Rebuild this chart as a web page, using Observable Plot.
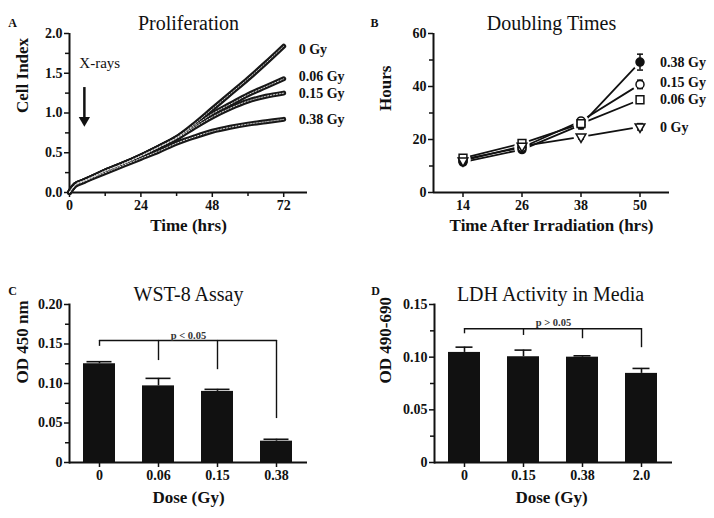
<!DOCTYPE html>
<html><head><meta charset="utf-8">
<script src="https://cdn.jsdelivr.net/npm/d3@7"></script>
<script src="https://cdn.jsdelivr.net/npm/@observablehq/plot@0.6"></script>
<style>
body{margin:0;background:#fff;}
#wrap{position:relative;width:714px;height:518px;background:#fff;}
#wrap > div{position:absolute;width:357px;height:259px;}
</style></head><body>
<div id="wrap">
<div id="pa" style="left:0;top:0"></div>
<div id="pb" style="left:357px;top:0"></div>
<div id="pc" style="left:0;top:259px"></div>
<div id="pd" style="left:357px;top:259px"></div>
</div>
<script>
// ---------- Panel A: Proliferation (Cell Index vs time) ----------
const timeHrs = [0, 2, 5, 8, 12, 18, 24, 30, 36, 42, 48, 54, 60, 66, 72];
const doseLabels = ["0 Gy", "0.06 Gy", "0.15 Gy", "0.38 Gy"];
const ci0Gy   = [0, 0.10, 0.15, 0.20, 0.27, 0.36, 0.46, 0.57, 0.69, 0.86, 1.05, 1.24, 1.43, 1.63, 1.84];
const ci006Gy = [0, 0.10, 0.15, 0.20, 0.27, 0.36, 0.46, 0.57, 0.69, 0.84, 0.99, 1.11, 1.23, 1.33, 1.43];
const ci015Gy = [0, 0.10, 0.15, 0.20, 0.27, 0.36, 0.46, 0.57, 0.68, 0.82, 0.95, 1.06, 1.15, 1.21, 1.25];
const ci038Gy = [0, 0.09, 0.14, 0.19, 0.25, 0.34, 0.43, 0.52, 0.62, 0.70, 0.77, 0.82, 0.86, 0.89, 0.92];
const labelYA = [1.80, 1.46, 1.24, 0.92];
const xrayTime = 5, xrayArrowTop = 1.32, xrayArrowBottom = 0.84, xrayTextY = 1.63, xrayTextX = 3.3;

// ---------- Panel B: Doubling times ----------
const dtTimes = [14, 26, 38, 50];
const dtDoses = ["0.38 Gy", "0.15 Gy", "0.06 Gy", "0 Gy"];
const dt038 = [11.5, 16.2, 25.5, 49.2];
const dt015 = [12.5, 17.0, 27.0, 40.8];
const dt006 = [13.0, 18.5, 26.0, 35.0];
const dt0   = [12.0, 17.5, 21.0, 24.8];
const err038 = [0.8, 0.8, 1.5, 3.0];
const err015 = [0.8, 0.8, 1.2, 1.6];
const err006 = [0.5, 0.6, 1.0, 0.6];
const err0   = [0.5, 0.6, 0.8, 1.2];
const labelYB = [49.1, 41.5, 35.1, 24.5];

// ---------- Panel C: WST-8 ----------
const wstDose = ["0", "0.06", "0.15", "0.38"];
const wstMean = [0.125, 0.097, 0.090, 0.027];
const wstUpper = [0.1276, 0.1065, 0.0926, 0.0294];
const wstBracketTop = 0.1545;
const wstBracketEnds = [0.147, 0.129, 0.1175, 0.0556];
const wstP = "p < 0.05", wstPY = 0.1655;

// ---------- Panel D: LDH ----------
const ldhDose = ["0", "0.15", "0.38", "2.0"];
const ldhMean = [0.1045, 0.1004, 0.1000, 0.0846];
const ldhUpper = [0.1095, 0.1067, 0.1013, 0.0893];
const ldhBracketTop = 0.127;
const ldhBracketEnds = [0.1222, 0.1206, 0.1175, 0.109];
const ldhP = "p > 0.05", ldhPY = 0.137;

// ---------- shared style ----------
const fontFamily = "'Liberation Serif', 'DejaVu Serif', 'Times New Roman', serif";
const baseStyle = {fontFamily, fontWeight: "bold", fontSize: "14px", color: "#111", background: "white", overflow: "visible"};
const ink = "#111";
const W = 357, H = 259;

function titleMarks(letter, title, ylab, xlab, o) {
  return [
    Plot.text([title], {text: d => d, frameAnchor: "top", dy: o.titleDy, dx: o.titleDx || 0, fontSize: 20, fontWeight: "normal", fill: ink}),
    Plot.text([letter], {text: d => d, frameAnchor: "top-left", dx: o.letterDx, dy: o.letterDy, fontSize: 12, fontWeight: "bold", fill: ink, textAnchor: "middle"}),
    Plot.text([ylab], {text: d => d, frameAnchor: "left", dx: o.ylabDx, dy: o.ylabDy || 0, rotate: -90, fontSize: o.ylabSize || 17, fontWeight: "bold", fill: ink}),
    Plot.text([xlab], {text: d => d, frameAnchor: "bottom", dy: o.xlabDy, dx: o.xlabDx || 0, fontSize: 17, fontWeight: "bold", fill: ink})
  ];
}

// ---------- Build A ----------
const seriesA = [ci0Gy, ci006Gy, ci015Gy, ci038Gy];
const rowsA = doseLabels.flatMap((d, i) => timeHrs.map((t, j) => ({dose: d, t, v: seriesA[i][j]})));
const labA = doseLabels.map((d, i) => ({dose: d, t: timeHrs[timeHrs.length - 1], y: labelYA[i]}));

const plotA = Plot.plot({
  width: W, height: H, marginLeft: 69, marginRight: 50, marginTop: 33, marginBottom: 67,
  style: baseStyle,
  x: {domain: [0, 80]}, y: {domain: [0, 2]},
  marks: [
    Plot.axisX({ticks: [0, 24, 48, 72], tickSize: 5, tickPadding: 3, label: null, strokeWidth: 1.5}),
    Plot.axisX({ticks: [12, 36, 60], tickSize: 4, tickFormat: () => "", label: null, strokeWidth: 1.5}),
    Plot.axisY({ticks: [0, 0.5, 1, 1.5, 2], tickFormat: d => d.toFixed(1), tickSize: 5, tickPadding: 2, label: null, strokeWidth: 1.5}),
    Plot.axisY({ticks: [0.25, 0.75, 1.25, 1.75], tickSize: 4, tickFormat: () => "", label: null, strokeWidth: 1.5}),
    Plot.ruleX([0], {strokeWidth: 2, stroke: ink}),
    Plot.ruleY([0], {strokeWidth: 2, stroke: ink}),
    Plot.line(rowsA, {x: "t", y: "v", z: "dose", stroke: "#181818", strokeWidth: 5, curve: "catmull-rom"}),
    Plot.line(rowsA, {x: "t", y: "v", z: "dose", stroke: "#dcdcdc", strokeWidth: 1, strokeDasharray: "1.5,1.5", curve: "catmull-rom"}),
    Plot.text(labA, {x: "t", y: "y", text: "dose", textAnchor: "start", dx: 15, fill: ink}),
    Plot.text(["X-rays"], {text: d => d, x: xrayTextX, y: xrayTextY, textAnchor: "start", fill: ink, fontWeight: "normal", fontSize: 15}),
    Plot.ruleX([xrayTime], {y1: xrayArrowTop, y2: xrayArrowBottom + 0.08, strokeWidth: 2.5, stroke: ink}),
    Plot.dot([xrayTime], {x: d => d, y: xrayArrowBottom + 0.07, symbol: "triangle", rotate: 180, r: 4.2, fill: ink, stroke: null}),
    ...titleMarks("A", "Proliferation", "Cell Index", "Time (hrs)", {titleDy: -18, letterDx: -57, letterDy: -15, ylabDx: -47, xlabDy: 38, ylabSize: 17})
  ]
});
document.getElementById("pa").append(plotA);

// ---------- Build B ----------
const seriesB = [dt038, dt015, dt006, dt0];
const errB = [err038, err015, err006, err0];
const rowsB = dtDoses.flatMap((d, i) => dtTimes.map((t, j) => ({dose: d, t, v: seriesB[i][j], lo: seriesB[i][j] - errB[i][j], hi: seriesB[i][j] + errB[i][j]})));
const labB = dtDoses.map((d, i) => ({dose: d, t: dtTimes[dtTimes.length - 1], y: labelYB[i]}));
const capSymbol = {draw(ctx, size) { const w = Math.sqrt(size) / 2; ctx.moveTo(-w, 0); ctx.lineTo(w, 0); }};
const markerStyle = {
  "0.38 Gy": {symbol: "circle", r: 4, fill: ink, rotate: 0},
  "0.15 Gy": {symbol: "circle", r: 4, fill: "white", rotate: 0},
  "0.06 Gy": {symbol: "square", r: 4.4, fill: "white", rotate: 0},
  "0 Gy":    {symbol: "triangle", r: 3.6, fill: "white", rotate: 180}
};
const xDomB = [8, 56];
const plotB = Plot.plot({
  width: W, height: H, marginLeft: 76, marginRight: 45, marginTop: 33, marginBottom: 67,
  style: baseStyle,
  x: {domain: xDomB}, y: {domain: [0, 60]},
  marks: [
    Plot.axisX({ticks: dtTimes, tickSize: 5, tickPadding: 3, label: null, strokeWidth: 1.5}),
    Plot.axisY({ticks: [0, 20, 40, 60], tickSize: 5, tickPadding: 2, label: null, strokeWidth: 1.5}),
    Plot.axisY({ticks: [10, 30, 50], tickSize: 4, tickFormat: () => "", label: null, strokeWidth: 1.5}),
    Plot.ruleX([xDomB[0]], {strokeWidth: 2, stroke: ink}),
    Plot.ruleY([0], {strokeWidth: 2, stroke: ink}),
    Plot.line(rowsB, {x: "t", y: "v", z: "dose", stroke: ink, strokeWidth: 1.8}),
    Plot.dot(rowsB, {x: "t", y: "v", r: 7.5, fill: "white", stroke: null}),
    Plot.ruleX(rowsB, {x: "t", y1: "lo", y2: "hi", stroke: ink, strokeWidth: 1.5}),
    Plot.dot(rowsB, {x: "t", y: "hi", symbol: capSymbol, r: 3.4, fill: "none", stroke: ink, strokeWidth: 1.5}),
    Plot.dot(rowsB, {x: "t", y: "lo", symbol: capSymbol, r: 3.4, fill: "none", stroke: ink, strokeWidth: 1.5}),
    ...dtDoses.map(d => Plot.dot(rowsB.filter(r => r.dose === d), {x: "t", y: "v", symbol: markerStyle[d].symbol, r: markerStyle[d].r, fill: markerStyle[d].fill, stroke: ink, strokeWidth: 1.5, rotate: markerStyle[d].rotate})),
    Plot.text(labB, {x: "t", y: "y", text: "dose", textAnchor: "start", dx: 20, fill: ink}),
    ...titleMarks("B", "Doubling Times", "Hours", "Time After Irradiation (hrs)", {titleDy: -18, letterDx: -59, letterDy: -15, ylabDx: -48, ylabDy: -2, xlabDy: 38})
  ]
});
document.getElementById("pb").append(plotB);

// ---------- Bar panel builder ----------
function barPanel(doses, mean, upper, bracketTop, bracketEnds, pText, pY, yTicks, yMinor, yMax, fmt, capInset, margins, labels) {
  const rows = doses.map((d, i) => ({dose: d, mean: mean[i], upper: upper[i], end: bracketEnds[i]}));
  return Plot.plot({
    width: W, height: H, ...margins,
    style: baseStyle,
    x: {domain: doses, paddingInner: 0.45, paddingOuter: 0.225},
    y: {domain: [0, yMax]},
    marks: [
      Plot.axisX({tickSize: 5, tickPadding: 3, label: null, strokeWidth: 1.5}),
      Plot.axisY({ticks: yTicks, tickFormat: fmt, tickSize: 5, tickPadding: 2, label: null, strokeWidth: 1.5}),
      Plot.axisY({ticks: yMinor, tickSize: 4, tickFormat: () => "", label: null, strokeWidth: 1.5}),
      Plot.barY(rows, {x: "dose", y: "mean", fill: ink}),
      Plot.ruleX(rows, {x: "dose", y1: "mean", y2: "upper", stroke: ink, strokeWidth: 1.6}),
      Plot.tickY(rows, {x: "dose", y: "upper", stroke: ink, strokeWidth: 1.6, insetLeft: capInset, insetRight: capInset}),
      Plot.ruleX(rows, {x: "dose", y1: "end", y2: bracketTop, stroke: ink, strokeWidth: 1.4}),
      Plot.line(rows, {x: "dose", y: () => bracketTop, stroke: ink, strokeWidth: 1.4}),
      Plot.text([pText], {text: d => d, frameAnchor: "top", y: pY, fontSize: 10.5, fontWeight: "bold", fill: "#333"}),
      Plot.frame({anchor: "left", strokeWidth: 2, stroke: ink}),
      Plot.ruleY([0], {strokeWidth: 2, stroke: ink}),
      ...labels
    ]
  });
}
const fmt2 = d => d === 0 ? "0" : d.toFixed(2);
const plotC = barPanel(wstDose, wstMean, wstUpper, wstBracketTop, wstBracketEnds, wstP, wstPY,
  [0, 0.05, 0.10, 0.15, 0.20], [0.025, 0.075, 0.125, 0.175], 0.20, fmt2, 3.5,
  {marginLeft: 69, marginRight: 50, marginTop: 45, marginBottom: 56},
  titleMarks("C", "WST-8 Assay", "OD 450 nm", "Dose (Gy)", {titleDy: -18, letterDx: -57, letterDy: -18, ylabDx: -47, xlabDy: 40}));
document.getElementById("pc").append(plotC);

const plotD = barPanel(ldhDose, ldhMean, ldhUpper, ldhBracketTop, ldhBracketEnds, ldhP, ldhPY,
  [0, 0.05, 0.10, 0.15], [0.025, 0.075, 0.125], 0.15, fmt2, 7.5,
  {marginLeft: 77, marginRight: 42, marginTop: 45, marginBottom: 56},
  titleMarks("D", "LDH Activity in Media", "OD 490-690", "Dose (Gy)", {titleDy: -18, titleDx: -3, letterDx: -59, letterDy: -18, ylabDx: -49, xlabDy: 40, xlabDx: -2}));
document.getElementById("pd").append(plotD);
</script>
</body></html>
